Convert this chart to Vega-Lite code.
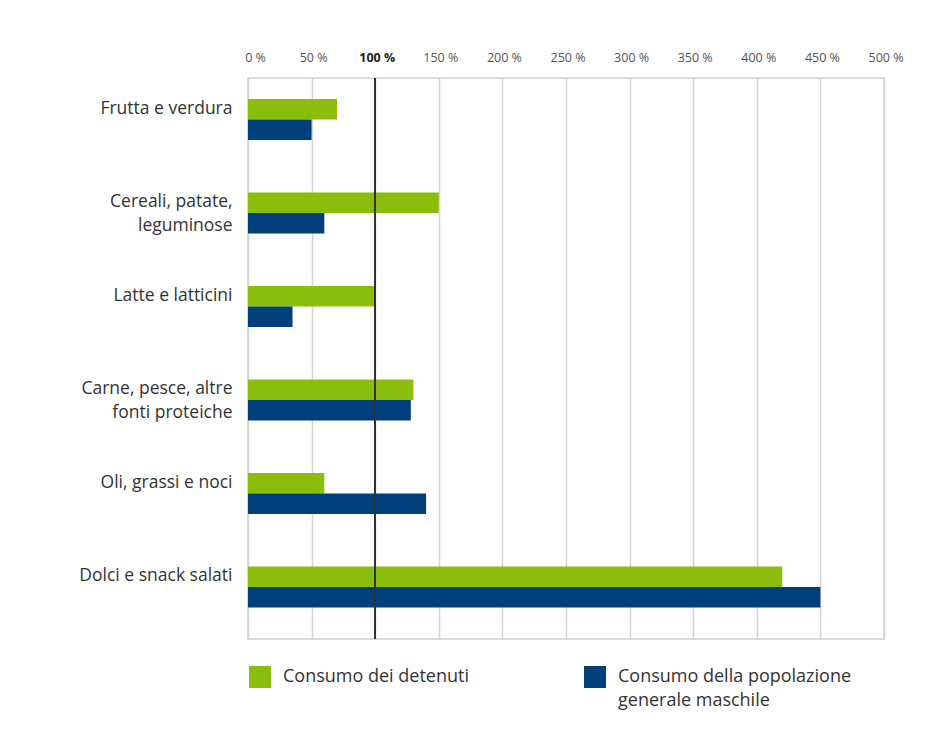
{
  "$schema": "https://vega.github.io/schema/vega-lite/v6.json",
  "width": 636,
  "height": 561,
  "autosize": {"type": "none"},
  "padding": {"left": 248, "top": 78, "right": 52, "bottom": 101},
  "background": "white",
  "config": {
    "font": "Open Sans",
    "view": {"stroke": "#d0d0d0", "strokeWidth": 1.5},
    "style": {"guide-label": {"lineHeight": 24}}
  },
  "data": {
    "values": [
      {"categoria": "Frutta e verdura", "serie": "Consumo dei detenuti", "valore": 70},
      {"categoria": "Frutta e verdura", "serie": "Consumo della popolazione generale maschile", "valore": 50},
      {"categoria": "Cereali, patate, leguminose", "serie": "Consumo dei detenuti", "valore": 150},
      {"categoria": "Cereali, patate, leguminose", "serie": "Consumo della popolazione generale maschile", "valore": 60},
      {"categoria": "Latte e latticini", "serie": "Consumo dei detenuti", "valore": 100},
      {"categoria": "Latte e latticini", "serie": "Consumo della popolazione generale maschile", "valore": 35},
      {"categoria": "Carne, pesce, altre fonti proteiche", "serie": "Consumo dei detenuti", "valore": 130},
      {"categoria": "Carne, pesce, altre fonti proteiche", "serie": "Consumo della popolazione generale maschile", "valore": 128},
      {"categoria": "Oli, grassi e noci", "serie": "Consumo dei detenuti", "valore": 60},
      {"categoria": "Oli, grassi e noci", "serie": "Consumo della popolazione generale maschile", "valore": 140},
      {"categoria": "Dolci e snack salati", "serie": "Consumo dei detenuti", "valore": 420},
      {"categoria": "Dolci e snack salati", "serie": "Consumo della popolazione generale maschile", "valore": 450}
    ]
  },
  "layer": [
    {
      "mark": {"type": "bar"},
      "encoding": {
        "y": {
          "field": "categoria",
          "type": "nominal",
          "sort": null,
          "scale": {"paddingInner": 0, "paddingOuter": 0},
          "axis": {
            "title": null,
            "ticks": false,
            "domain": false,
            "labelFontSize": 17.5,
            "labelColor": "#333333",
            "labelPadding": 16,
            "labelBaseline": "top",
            "labelOffset": -25,
            "labelLineHeight": 23.5,
            "labelLimit": 250,
            "labelExpr": "datum.label == 'Cereali, patate, leguminose' ? ['Cereali, patate,', 'leguminose'] : datum.label == 'Carne, pesce, altre fonti proteiche' ? ['Carne, pesce, altre', 'fonti proteiche'] : datum.label"
          }
        },
        "yOffset": {
          "field": "serie",
          "type": "nominal",
          "sort": null,
          "scale": {"range": [21, 62], "paddingInner": 0, "paddingOuter": 0}
        },
        "x": {
          "field": "valore",
          "type": "quantitative",
          "scale": {"domain": [0, 500], "nice": false},
          "axis": {
            "orient": "top",
            "title": null,
            "values": [0, 50, 100, 150, 200, 250, 300, 350, 400, 450, 500],
            "labelExpr": "datum.value + ' %'",
            "ticks": false,
            "domain": false,
            "labelFlush": false,
            "labelOffset": {"condition": {"test": "datum.value == 0", "value": 7}, "value": 1.5},
            "labelFontSize": 12.5,
            "labelColor": {"condition": {"test": "datum.value == 100", "value": "#222222"}, "value": "#555555"},
            "labelFontWeight": {"condition": {"test": "datum.value == 100", "value": "bold"}, "value": "normal"},
            "labelPadding": 14,
            "grid": true,
            "gridColor": "#d4d4d4",
            "gridWidth": 1.5
          }
        },
        "color": {
          "field": "serie",
          "type": "nominal",
          "sort": null,
          "scale": {"range": ["#8bbd0c", "#003f7b"]},
          "legend": {
            "title": null,
            "orient": "none",
            "legendX": 1,
            "legendY": 588,
            "direction": "horizontal",
            "columns": 2,
            "columnPadding": 114,
            "symbolType": "square",
            "symbolSize": 484,
            "symbolStrokeWidth": 0,
            "symbolOpacity": 1,
            "labelFontSize": 18,
            "labelColor": "#333333",
            "labelOffset": 12,
            "labelLimit": 300,
            "labelBaseline": "middle",
            "labelExpr": "datum.label == 'Consumo della popolazione generale maschile' ? ['Consumo della popolazione', 'generale maschile'] : [datum.label, '']"
          }
        }
      }
    },
    {
      "mark": {"type": "rule", "color": "#333333", "strokeWidth": 1},
      "encoding": {"x": {"datum": 100}}
    }
  ]
}
